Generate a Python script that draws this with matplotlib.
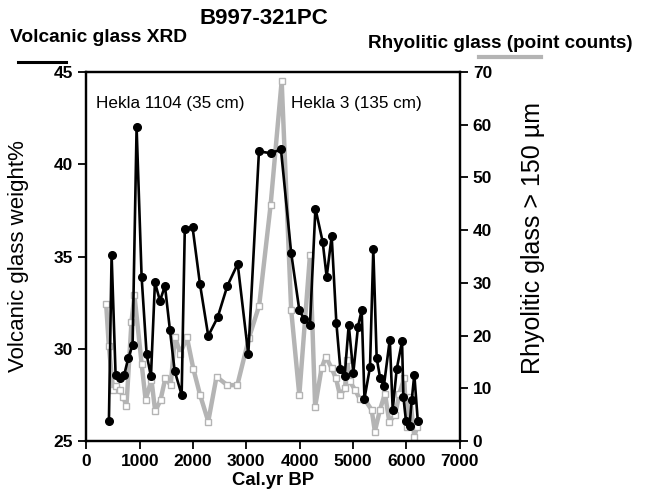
import matplotlib
matplotlib.use("Agg")
import matplotlib.pyplot as plt
from matplotlib.lines import Line2D

plt.rcParams['font.family'] = ['Liberation Sans', 'DejaVu Sans']

# Volcanic glass from XRD (wt%), left axis
xrd_age = [422, 472, 547, 628, 710, 785, 866, 941, 1035, 1129, 1210, 1285,
           1379, 1473, 1567, 1655, 1786, 1845, 1990, 2130, 2285, 2461, 2642,
           2837, 3036, 3236, 3455, 3649, 3840, 3993, 4083, 4193, 4295, 4431,
           4506, 4600, 4688, 4763, 4843, 4920, 5006, 5094, 5163, 5215, 5319,
           5381, 5444, 5510, 5580, 5690, 5745, 5820, 5920, 5945, 5994, 6060,
           6101, 6150, 6215]
xrd_glass = [26.1, 35.1, 28.6, 28.4, 28.6, 29.5, 30.2, 42.0, 33.9, 29.7, 28.5,
             33.6, 32.6, 33.4, 31.0, 28.8, 27.5, 36.5, 36.6, 33.5, 30.7, 31.7,
             33.4, 34.6, 29.7, 40.7, 40.6, 40.8, 35.2, 32.1, 31.6, 31.3, 37.6,
             35.8, 33.9, 36.1, 31.4, 28.9, 28.5, 31.3, 28.7, 31.2, 32.1, 27.3,
             29.0, 35.4, 29.5, 28.4, 28.0, 30.5, 26.7, 28.9, 30.4, 27.4, 26.1,
             25.8, 27.2, 28.6, 26.1]

# Rhyolitic glass > 150 um (point counts), right axis
pc_age = [370, 420, 500, 560, 628, 690, 750, 845, 900, 1035, 1110, 1220, 1290,
          1390, 1480, 1580, 1660, 1760, 1885, 2005, 2130, 2285, 2440, 2640,
          2830, 3050, 3240, 3455, 3662, 3840, 3993, 4193, 4290, 4410, 4490,
          4600, 4680, 4755, 4850, 4890, 4940, 5040, 5130, 5225, 5350, 5410,
          5505, 5600, 5680, 5790, 5870, 5960, 6010, 6070, 6150, 6200]
pc_count = [26.0, 18.0, 9.7, 10.5, 9.7, 8.4, 6.6, 22.6, 27.7, 14.7, 7.8, 11.6,
            5.6, 7.8, 11.9, 10.6, 19.8, 16.6, 19.7, 13.7, 8.8, 3.7, 12.2, 10.6,
            10.6, 19.6, 25.7, 44.8, 68.3, 24.9, 8.7, 35.3, 6.5, 13.8, 16.0,
            13.8, 11.9, 8.7, 10.0, 15.4, 11.3, 9.7, 7.9, 7.8, 5.9, 1.8, 5.9,
            9.0, 3.7, 4.9, 9.0, 11.9, 2.7, 8.4, 0.8, 2.7]

GREY = '#b4b4b4'

fig = plt.figure(figsize=(6.45, 4.99), dpi=100)
ax = fig.add_axes([0.134, 0.1162, 0.5786, 0.7395])
ax2 = ax.twinx()

ax2.plot(pc_age, pc_count, color=GREY, lw=3.2, marker='s', ms=4.5,
         mfc='white', mec=GREY, mew=1.0, zorder=2)
ax.plot(xrd_age, xrd_glass, color='black', lw=1.9, marker='o', ms=5.5,
        mfc='black', mec='black', zorder=3)

# black series sits above the grey one
ax.set_zorder(ax2.get_zorder() + 1)
ax.patch.set_visible(False)

ax.set_xlim(0, 7000)
ax.set_ylim(25, 45)
ax2.set_ylim(0, 70)
ax.set_xticks(range(0, 7001, 1000))
ax.set_yticks([25, 30, 35, 40, 45])
ax2.set_yticks(range(0, 71, 10))

for a in (ax, ax2):
    for sp in a.spines.values():
        sp.set_linewidth(1.6)
    a.tick_params(direction='out', length=6, width=1.3, labelsize=12.5)
    for lbl in a.get_xticklabels() + a.get_yticklabels():
        lbl.set_fontweight('bold')

ax.set_xlabel('Cal.yr BP', fontsize=13.3, fontweight='bold', labelpad=2)
ax.set_ylabel('Volcanic glass weight%', fontsize=16)
ax2.set_ylabel('Rhyolitic glass > 150 µm', fontsize=18)
ax.yaxis.set_label_coords(-0.155, 0.5)
ax2.yaxis.set_label_coords(1.165, 0.55)

ax.text(0.025, 0.915, 'Hekla 1104 (35 cm)', transform=ax.transAxes,
        fontsize=12.3, ha='left', va='center')
ax.text(0.548, 0.915, 'Hekla 3 (135 cm)', transform=ax.transAxes,
        fontsize=12.3, ha='left', va='center')

fig.text(0.409, 0.962, 'B997-321PC', fontsize=16, fontweight='bold',
         ha='center', va='center')
fig.text(0.016, 0.925, 'Volcanic glass XRD', fontsize=13.8,
         fontweight='bold', ha='left', va='center')
fig.text(0.57, 0.913, 'Rhyolitic glass (point counts)', fontsize=13.6,
         fontweight='bold', ha='left', va='center')

# legend swatches under the two headings
fig.add_artist(Line2D([0.028, 0.103], [0.876, 0.876], color='black', lw=2.2))
fig.add_artist(Line2D([0.742, 0.838], [0.886, 0.886], color=GREY, lw=3.0))

fig.savefig('out.png', dpi=100)
